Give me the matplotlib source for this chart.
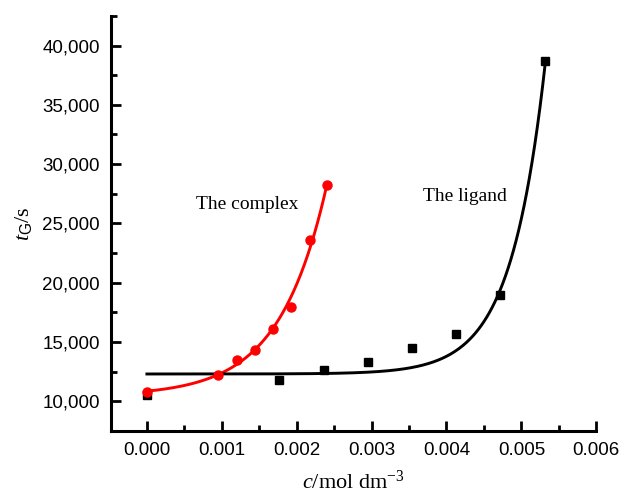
import numpy as np
import matplotlib
matplotlib.use('Agg')
import matplotlib.pyplot as plt
from matplotlib.ticker import MultipleLocator, FuncFormatter

plt.rcParams['mathtext.fontset'] = 'custom'
plt.rcParams['mathtext.rm'] = 'Liberation Serif'
plt.rcParams['mathtext.it'] = 'Liberation Serif:italic'
plt.rcParams['mathtext.sf'] = 'Liberation Sans'

# The complex (red circles)
complex_c = [0.0, 0.00095, 0.00120, 0.00144, 0.00169, 0.00192, 0.00218, 0.00240]
complex_t = [10800, 12250, 13450, 14300, 16100, 17950, 23600, 28200]

# The ligand (black squares)
ligand_c = [0.0, 0.00176, 0.00236, 0.00295, 0.00354, 0.00413, 0.00472, 0.00532]
ligand_t = [10500, 11780, 12630, 13300, 14480, 15650, 18980, 38700]

# exponential growth fits, y = y0 + A*exp(x/t), parameters
complex_fit = dict(y0=10450, A=400, t=0.000633, xmax=0.0024)
ligand_fit = dict(y0=12300, A=0.2495, t=0.00046, xmax=0.00532)

fig = plt.figure(figsize=(6.27, 4.97), dpi=100)
ax = fig.add_axes([0.177, 0.133, 0.774, 0.835])

for fit, color in [(complex_fit, 'red'), (ligand_fit, 'black')]:
    xs = np.linspace(0, fit['xmax'], 300)
    ax.plot(xs, fit['y0'] + fit['A'] * np.exp(xs / fit['t']), color=color, lw=2.1, zorder=2)

ax.plot(ligand_c, ligand_t, 's', color='black', ms=6, zorder=3)
ax.plot(complex_c, complex_t, 'o', color='red', ms=6.5, zorder=3)

ax.text(0.000655, 26600, 'The complex', family='Liberation Serif', fontsize=14, va='center')
ax.text(0.00369, 27300, 'The ligand', family='Liberation Serif', fontsize=14, va='center')

ax.set_xlim(-0.00048, 0.006)
ax.set_ylim(7500, 42500)
ax.xaxis.set_major_locator(MultipleLocator(0.001))
ax.xaxis.set_minor_locator(MultipleLocator(0.0005))
ax.yaxis.set_major_locator(MultipleLocator(5000))
ax.yaxis.set_minor_locator(MultipleLocator(2500))
ax.xaxis.set_major_formatter(FuncFormatter(lambda v, p: f'{v:.3f}'))
ax.yaxis.set_major_formatter(FuncFormatter(lambda v, p: f'{v:,.0f}'))

for s in ['top', 'right']:
    ax.spines[s].set_visible(False)
for s in ['left', 'bottom']:
    ax.spines[s].set_linewidth(2.2)

ax.tick_params(which='both', direction='in', width=2)
ax.tick_params(which='major', length=7, pad=8)
ax.tick_params(which='minor', length=4)
for lab in ax.get_xticklabels() + ax.get_yticklabels():
    lab.set_family('Liberation Sans')
    lab.set_fontsize(13.5)

ax.set_xlabel(r'$c$/mol dm$^{-3}$', family='Liberation Serif', fontsize=16, labelpad=8)
ax.set_ylabel(r'$t_{\mathsf{G}}$/s', family='Liberation Serif', fontsize=16, labelpad=6)

fig.savefig('out.png', dpi=100)
